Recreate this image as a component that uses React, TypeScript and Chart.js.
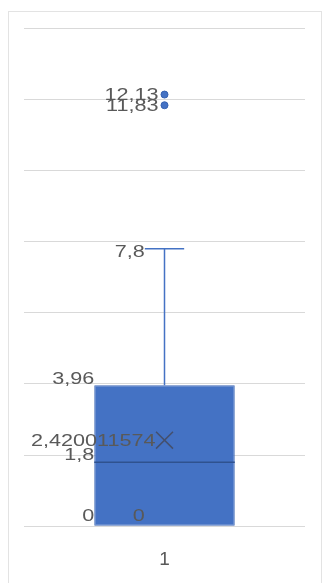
import React, { useEffect, useRef } from "react";
import { Chart, registerables } from "chart.js";

Chart.register(...registerables);

const categories = ["1"];
const minValues = [0];
const q1Values = [0];
const medianValues = [1.8];
const meanValues = [2.420011574];
const q3Values = [3.96];
const maxValues = [7.8];
const outlierValues = [[12.13, 11.83]];
const yMin = 0;
const yMax = 14;
const yStep = 2;

const BOX = "#4472C4";
const BOX_EDGE = "#3E68B5";
const MEDIAN = "#2F528F";
const MEAN = "#44506E";
const LABEL = "#595959";
const GRID = "#D9D9D9";
const FONT = "16px 'Liberation Sans', Arial, sans-serif";
const STRETCH = 1.35;

const fmt = (v: number) => String(v).replace(".", ",");

function drawText(ctx: CanvasRenderingContext2D, text: string, x: number, y: number, base: CanvasTextBaseline) {
  ctx.save();
  ctx.translate(x, y);
  ctx.scale(STRETCH, 1);
  ctx.font = FONT;
  ctx.fillStyle = LABEL;
  ctx.textAlign = "right";
  ctx.textBaseline = base;
  ctx.fillText(text, 0, 0);
  ctx.restore();
}

const boxPlugin = {
  id: "boxExtras",
  afterDatasetsDraw(chart: any) {
    const ctx: CanvasRenderingContext2D = chart.ctx;
    const y = chart.scales.y;
    const meta = chart.getDatasetMeta(0);
    meta.data.forEach((bar: any, i: number) => {
      const cx = bar.x;
      const w = bar.width;
      const left = cx - w / 2;
      const right = cx + w / 2;
      const cap = w * 0.14;
      const pMin = y.getPixelForValue(minValues[i]);
      const pQ1 = y.getPixelForValue(q1Values[i]);
      const pMed = y.getPixelForValue(medianValues[i]);
      const pQ3 = y.getPixelForValue(q3Values[i]);
      const pMax = y.getPixelForValue(maxValues[i]);
      const pMean = y.getPixelForValue(meanValues[i]);
      ctx.save();
      ctx.strokeStyle = BOX;
      ctx.lineWidth = 1.5;
      ctx.beginPath();
      ctx.moveTo(cx, pQ3);
      ctx.lineTo(cx, pMax);
      ctx.moveTo(cx - cap, pMax);
      ctx.lineTo(cx + cap, pMax);
      ctx.moveTo(cx, pQ1);
      ctx.lineTo(cx, pMin);
      ctx.stroke();
      ctx.strokeStyle = MEDIAN;
      ctx.lineWidth = 1.5;
      ctx.beginPath();
      ctx.moveTo(left, pMed);
      ctx.lineTo(right, pMed);
      ctx.stroke();
      ctx.restore();

      drawText(ctx, fmt(q3Values[i]), left, pQ3 + 2, "bottom");
      drawText(ctx, fmt(medianValues[i]), left, pMed + 1, "bottom");
      drawText(ctx, fmt(q1Values[i]), left, pQ1 - 2, "bottom");
      drawText(ctx, fmt(minValues[i]), cx - cap, pMin - 2, "bottom");
      drawText(ctx, fmt(maxValues[i]), cx - cap, pMax + 4, "middle");
      drawText(ctx, fmt(meanValues[i]), cx - 9, pMean + 1, "middle");
      outlierValues[i].forEach((v) => {
        drawText(ctx, fmt(v), cx - 6, y.getPixelForValue(v) + 1, "middle");
      });
    });
  },
};

export default function App() {
  const ref = useRef<HTMLCanvasElement | null>(null);
  useEffect(() => {
    const ctx = ref.current!.getContext("2d")!;
    const outlierPoints: { x: string; y: number }[] = [];
    outlierValues.forEach((arr, i) => arr.forEach((v) => outlierPoints.push({ x: categories[i], y: v })));
    const chart = new Chart(ctx, {
      type: "bar",
      data: {
        labels: categories,
        datasets: [
          {
            type: "bar",
            data: categories.map((_, i) => [q1Values[i], q3Values[i]]) as any,
            backgroundColor: BOX,
            borderColor: BOX_EDGE,
            borderWidth: 1,
            borderSkipped: false,
            categoryPercentage: 1,
            barPercentage: 0.5,
            order: 3,
          },
          {
            type: "line",
            data: categories.map((c, i) => ({ x: c, y: meanValues[i] })) as any,
            showLine: false,
            pointStyle: "crossRot",
            pointRadius: 12,
            borderColor: MEAN,
            borderWidth: 1.5,
            order: 2,
          },
          {
            type: "line",
            data: outlierPoints as any,
            showLine: false,
            pointStyle: "circle",
            pointRadius: 3.5,
            backgroundColor: BOX,
            borderColor: "#3461B0",
            borderWidth: 1,
            order: 1,
          },
        ],
      },
      options: {
        animation: false,
        responsive: false,
        devicePixelRatio: 1,
        layout: { padding: { left: 15, right: 16, top: 16, bottom: 12.7 } },
        plugins: { legend: { display: false }, tooltip: { enabled: false } },
        scales: {
          x: {
            grid: { display: false, drawTicks: false },
            border: { display: false },
            ticks: { color: LABEL, font: { family: "'Liberation Sans', Arial, sans-serif", size: 19 }, padding: 22 },
            afterFit: (scale: any) => {
              scale.height = 44;
            },
          },
          y: {
            min: yMin,
            max: yMax,
            ticks: { stepSize: yStep, display: false },
            grid: { color: GRID, lineWidth: 1, drawTicks: false },
            border: { display: false },
          },
        },
      },
      plugins: [boxPlugin],
    });
    return () => chart.destroy();
  }, []);
  return (
    <div
      style={{
        position: "absolute",
        left: 8,
        top: 11,
        width: 312,
        height: 572,
        borderTop: "1px solid #E3E3E3",
        borderLeft: "1px solid #E3E3E3",
        borderRight: "1px solid #E3E3E3",
      }}
    >
      <canvas ref={ref} width={312} height={571} style={{ display: "block", width: 312, height: 571 }} />
    </div>
  );
}
